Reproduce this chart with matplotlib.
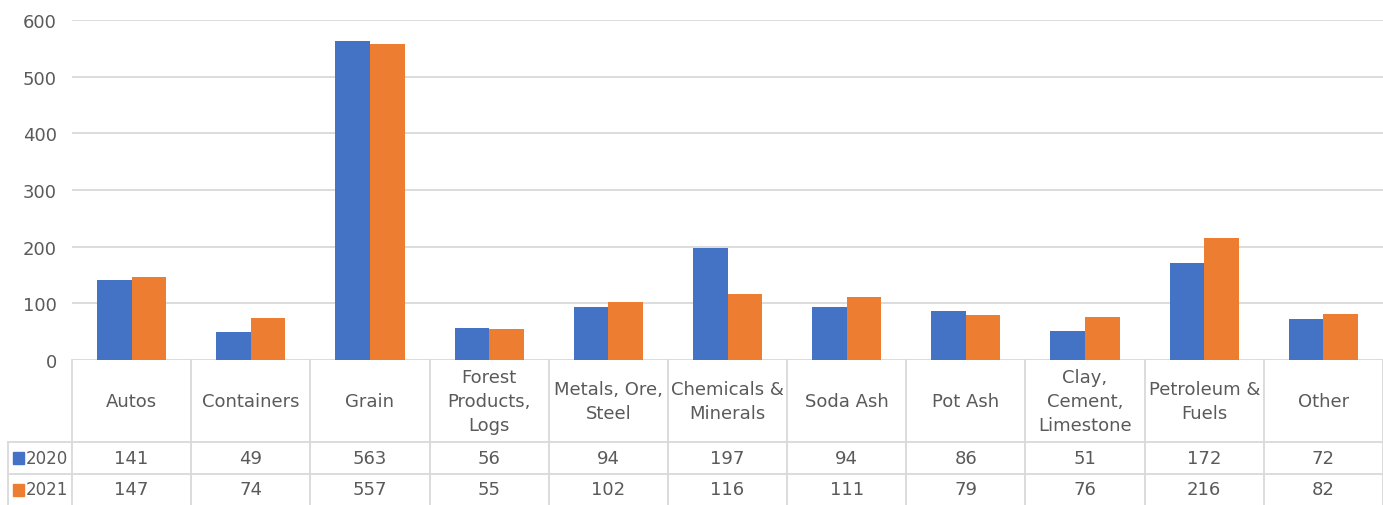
import matplotlib
matplotlib.use("Agg")
import matplotlib.pyplot as plt
import numpy as np

categories = ["Autos", "Containers", "Grain", "Forest\nProducts,\nLogs", "Metals, Ore,\nSteel",
              "Chemicals &\nMinerals", "Soda Ash", "Pot Ash", "Clay,\nCement,\nLimestone",
              "Petroleum &\nFuels", "Other"]
series_names = ["2020", "2021"]
values_2020 = [141, 49, 563, 56, 94, 197, 94, 86, 51, 172, 72]
values_2021 = [147, 74, 557, 55, 102, 116, 111, 79, 76, 216, 82]
yticks = [0, 100, 200, 300, 400, 500, 600]

colors = ["#4472C4", "#ED7D31"]
grid_c = "#D9D9D9"
text_c = "#5A5A5A"
plt.rcParams['font.family'] = ['DejaVu Sans']

W, H = 1383, 506
fig = plt.figure(figsize=(W/100, H/100), dpi=100)

# pixel layout
px_left, px_right, px_top, px_zero = 72, 1383, 21, 361
ax = fig.add_axes([px_left/W, (H-px_zero)/H, (px_right-px_left)/W, (px_zero-px_top)/H])
n = len(categories)
x = np.arange(n)
bw = 0.29
ax.bar(x - bw/2, values_2020, bw, color=colors[0], zorder=3)
ax.bar(x + bw/2, values_2021, bw, color=colors[1], zorder=3)
ax.set_xlim(-0.5, n - 0.5)
ax.set_ylim(0, 600)
ax.set_yticks(yticks)
ax.set_yticklabels([str(t) for t in yticks], fontsize=13, color=text_c)
ax.tick_params(axis='y', length=0, pad=11)
ax.set_xticks([])
ax.grid(axis='y', color=grid_c, linewidth=1.3, zorder=0)
for s in ax.spines.values():
    s.set_visible(False)

# data table below
tab = fig.add_axes([px_left/W, 0, (px_right-px_left)/W, (H-px_zero)/H])
tab.set_xlim(-0.5, n - 0.5)
tab.set_ylim(H, px_zero)  # pixel rows
tab.axis('off')
cw = (px_right - px_left)/n
left_edge = -0.5 - (px_left - 8)/cw
row1, row2 = 443, 475
lw = 1.3
for i in range(n + 1):
    tab.plot([-0.5 + i, -0.5 + i], [px_zero, H], color=grid_c, lw=lw, clip_on=False)
tab.plot([left_edge, n - 0.5], [row1, row1], color=grid_c, lw=lw, clip_on=False)
tab.plot([left_edge, n - 0.5], [row2, row2], color=grid_c, lw=lw, clip_on=False)
tab.plot([left_edge, left_edge], [row1, H], color=grid_c, lw=lw, clip_on=False)

for i, c in enumerate(categories):
    tab.text(i, (px_zero + row1)/2, c, ha='center', va='center', fontsize=13,
             color=text_c, linespacing=1.4)
for r, (vals, yc) in enumerate([(values_2020, (row1 + row2)/2), (values_2021, (row2 + H)/2)]):
    for i, v in enumerate(vals):
        tab.text(i, yc, str(v), ha='center', va='center', fontsize=13, color=text_c)
    kx = left_edge + 5/cw
    tab.add_patch(plt.Rectangle((kx, yc - 6), 11/cw, 12, color=colors[r], clip_on=False))
    tab.text(kx + 13/cw, yc, series_names[r], ha='left', va='center', fontsize=12, color=text_c)

fig.savefig("out.png", dpi=100)
